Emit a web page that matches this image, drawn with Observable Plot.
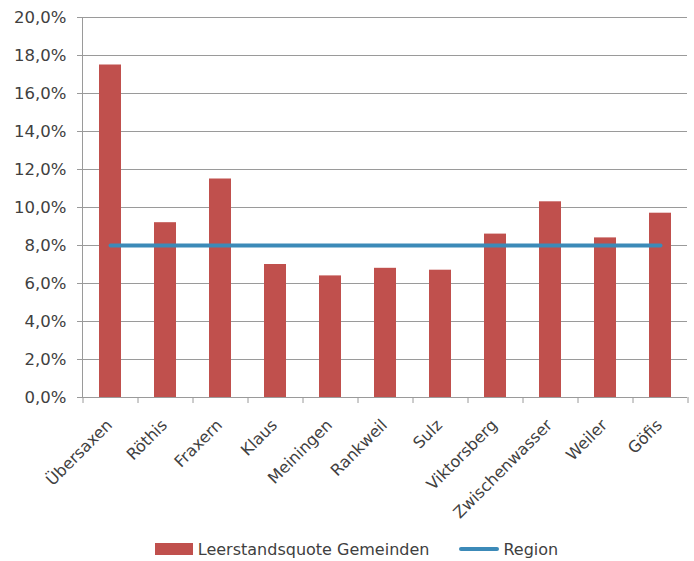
<!DOCTYPE html>
<html>
<head>
<meta charset="utf-8">
<script src="https://cdn.jsdelivr.net/npm/d3@7"></script>
<script src="https://cdn.jsdelivr.net/npm/@observablehq/plot@0.6"></script>
<style>
  body { margin: 0; background: #fff; font-family: "DejaVu Sans", sans-serif; color: #404040; }
  #chart { width: 694px; }
  .legend { display: flex; justify-content: center; align-items: center; height: 26px; font-size: 16px; color: #404040; margin-left: 19px; }
  .legend .item { display: flex; align-items: center; }
  .sw-bar { width: 38px; height: 12px; background: #c0504d; margin-right: 5px; }
  .sw-line { width: 40px; height: 4px; background: #3c8ab8; border-radius: 2px; margin-right: 4px; }
</style>
</head>
<body>
<div id="chart"></div>
<script>
const towns = ["Übersaxen", "Röthis", "Fraxern", "Klaus", "Meiningen", "Rankweil", "Sulz", "Viktorsberg", "Zwischenwasser", "Weiler", "Göfis"];
const rates = [17.5, 9.2, 11.5, 7.0, 6.4, 6.8, 6.7, 8.6, 10.3, 8.4, 9.7];
const regionRate = 8.0;
const yTicks = [0, 2, 4, 6, 8, 10, 12, 14, 16, 18, 20];
const seriesNames = ["Leerstandsquote Gemeinden", "Region"];

const data = towns.map((t, i) => ({town: t, rate: rates[i], region: regionRate}));
const W = 694, ML = 82, MR = 7;
const step = (W - ML - MR) / towns.length;
const fmt = d => d.toFixed(1).replace(".", ",") + "%";

const chart = Plot.plot({
  width: W,
  height: 536,
  marginLeft: ML,
  marginRight: MR,
  marginTop: 17,
  marginBottom: 139,
  style: { fontFamily: "DejaVu Sans, sans-serif", fontSize: "16px", color: "#404040", background: "#fff" },
  x: { domain: towns, paddingInner: 0.6, paddingOuter: 0.3 },
  y: { domain: [0, 20] },
  marks: [
    Plot.gridY(yTicks, { stroke: "#9a9a9a", strokeOpacity: 1, strokeWidth: 1 }),
    Plot.barY(data, { x: "town", y: "rate", fill: "#c0504d" }),
    Plot.lineY(data, { x: "town", y: "region", stroke: "#3c8ab8", strokeWidth: 4, strokeLinecap: "round" }),
    Plot.axisY({ ticks: yTicks, tickSize: 5, tickPadding: 11, tickFormat: fmt, stroke: "#9a9a9a", fill: "#404040", fontSize: 16.5 }),
    Plot.frame({ anchor: "left", stroke: "#9a9a9a" }),
    Plot.ruleY([0], { stroke: "#9a9a9a" }),
    Plot.axisX({ tickSize: 6, tickFormat: null, label: null, stroke: "#9a9a9a", dx: -step / 2 }),
    Plot.axisX([towns[towns.length - 1]], { tickSize: 6, tickFormat: null, label: null, stroke: "#9a9a9a", dx: step / 2 }),
    Plot.axisX({ tickSize: 0, tickRotate: -45, tickPadding: 25, dx: -1, label: null, fill: "#404040", fontSize: 16 })
  ]
});
document.getElementById("chart").appendChild(chart);

const legend = document.createElement("div");
legend.className = "legend";
legend.innerHTML = `<div class="item"><div class="sw-bar"></div><span>${seriesNames[0]}</span></div>
<div class="item" style="margin-left:30px"><div class="sw-line"></div><span>${seriesNames[1]}</span></div>`;
document.getElementById("chart").appendChild(legend);
</script>
</body>
</html>
